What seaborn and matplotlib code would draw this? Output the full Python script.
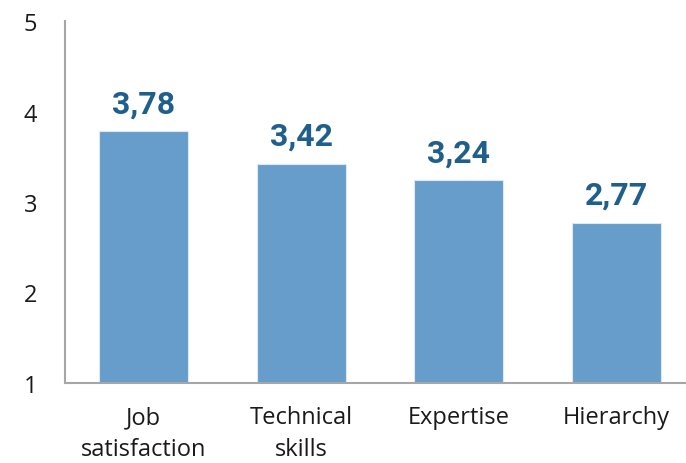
import matplotlib
matplotlib.use("Agg")
import matplotlib.pyplot as plt
import seaborn as sns
import pandas as pd

categories = ["Job\nsatisfaction", "Technical\nskills", "Expertise", "Hierarchy"]
scores = [3.78, 3.42, 3.24, 2.77]
y_ticks = [1, 2, 3, 4, 5]

BAR_COLOR = "#669dca"
LABEL_COLOR = "#1f5f8b"
SPINE_COLOR = "#a6a6a6"

sns.set_theme(style="white")
plt.rcParams["font.family"] = ["Open Sans", "DejaVu Sans"]

df = pd.DataFrame({"category": categories, "score": scores})

fig = plt.figure(figsize=(6.86, 4.64), dpi=100)
W, H = 686, 464
ax = fig.add_axes([65 / W, (H - 384) / H, 630 / W, 362 / H])

sns.barplot(data=df, x="category", y="score", color=BAR_COLOR, saturation=1,
            width=0.565, edgecolor="#dce8f3", linewidth=0.8, ax=ax)

ax.set_ylim(1, 5)
ax.set_xlim(-0.5, 3.5)
ax.set_yticks(y_ticks)
ax.set_yticklabels([str(t) for t in y_ticks])
ax.set_xlabel("")
ax.set_ylabel("")

ax.tick_params(axis="y", length=0, pad=20, labelsize=17, labelcolor="#1a1a1a")
ax.tick_params(axis="x", length=0, pad=16, labelsize=17, labelcolor="#1a1a1a")
for lbl in ax.get_xticklabels():
    lbl.set_linespacing(1.42)

for side in ["top", "right"]:
    ax.spines[side].set_visible(False)
for side in ["left", "bottom"]:
    ax.spines[side].set_color(SPINE_COLOR)
    ax.spines[side].set_linewidth(1.5)

for i, v in enumerate(scores):
    ax.annotate(f"{v:.2f}".replace(".", ","), xy=(i, v), xytext=(0, 13.7),
                textcoords="offset points", ha="center", va="baseline",
                fontsize=23, fontweight="bold", color=LABEL_COLOR,
                family=["Roboto", "DejaVu Sans"])

fig.savefig("out.png", dpi=100)
